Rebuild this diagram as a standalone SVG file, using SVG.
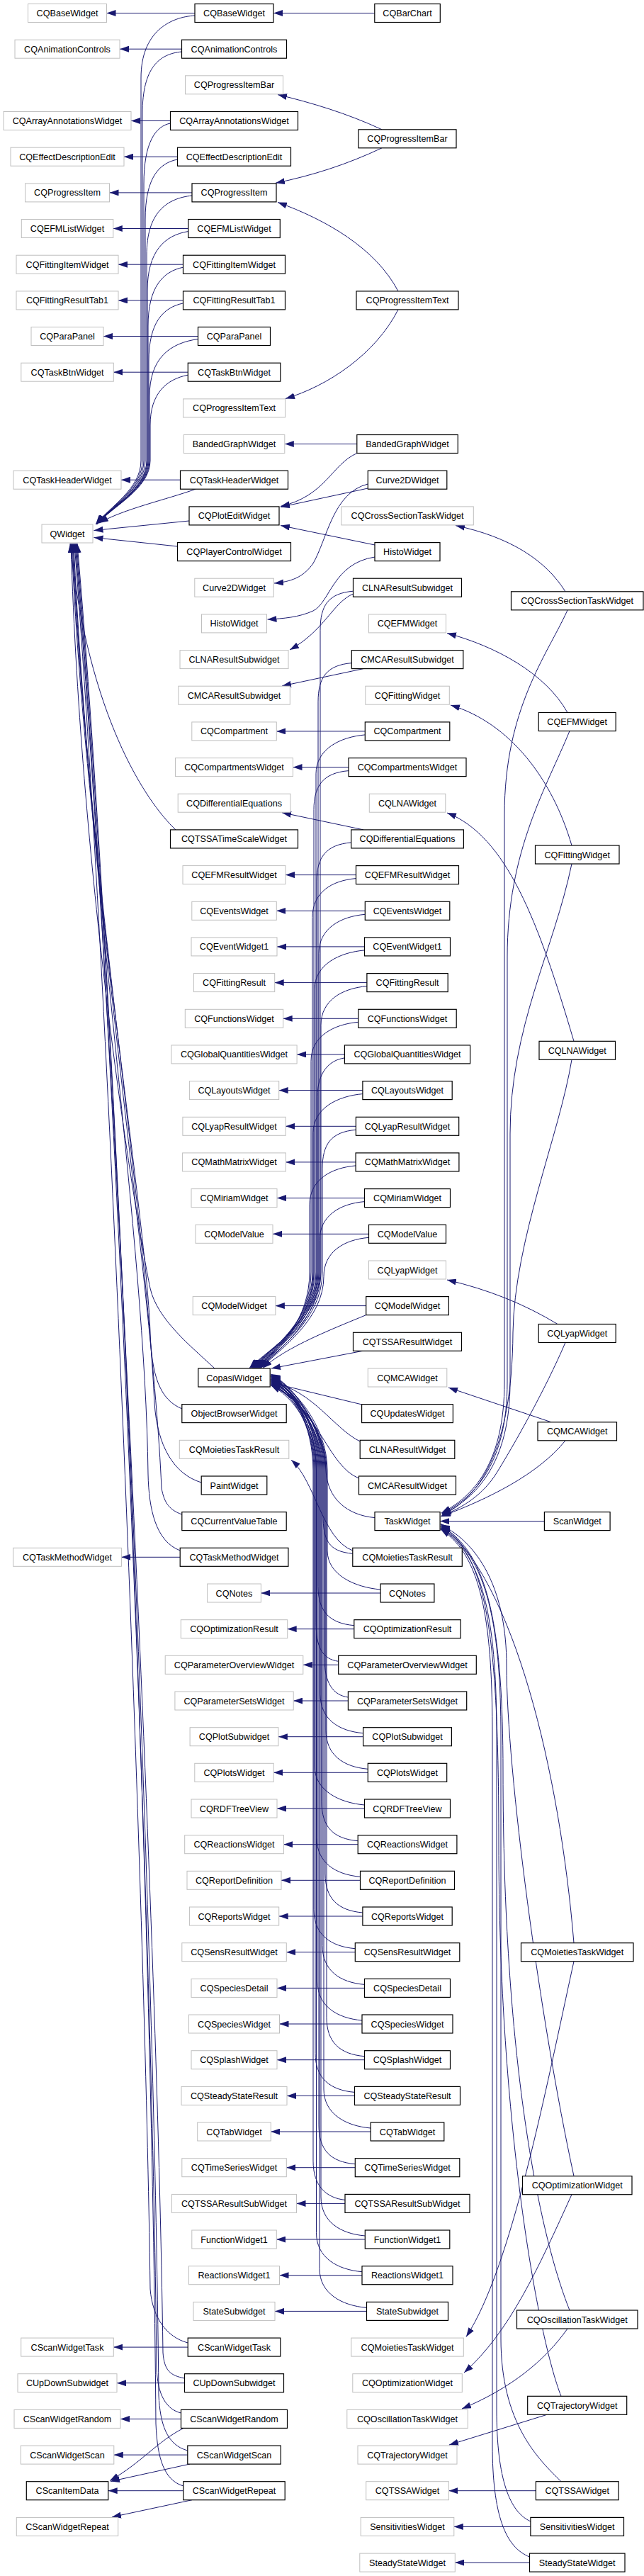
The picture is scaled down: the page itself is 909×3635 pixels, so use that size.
<svg xmlns="http://www.w3.org/2000/svg" width="909" height="3635" viewBox="0 0 909 3635">
<style>
.g rect{fill:#fff;stroke:#bfbfbf;stroke-width:1}
.b rect{fill:#fff;stroke:#000;stroke-width:1.2}
text{font-family:"Liberation Sans",Arial,Helvetica,sans-serif;font-size:12.6px;text-anchor:middle;fill:#000}
#edges path{fill:none;stroke:#191970;stroke-width:1;marker-end:url(#ah)}
</style>
<defs>
<marker id="ah" markerUnits="userSpaceOnUse" markerWidth="13" markerHeight="9" viewBox="0 0 13 9" refX="13" refY="4.5" orient="auto"><path d="M0,0 L13,4.5 L0,9 z" fill="#191970"/></marker>
</defs>
<rect width="909" height="3635" fill="#fff"/>
<g id="edges">
<!-- col1 -> col0 horizontal -->
<path d="M275,18.5 L150.5,18.5"/>
<path d="M256.5,69.2 L169,69.2"/>
<path d="M240.5,170.5 L185,170.5"/>
<path d="M250.5,221.2 L175,221.2"/>
<path d="M271,271.9 L154.5,271.9"/>
<path d="M265.8,322.5 L159.8,322.5"/>
<path d="M258.5,373.2 L167,373.2"/>
<path d="M258.5,423.9 L167,423.9"/>
<path d="M279.5,474.5 L146,474.5"/>
<path d="M265.3,525.2 L160.3,525.2"/>
<path d="M254.5,677.2 L171,677.2"/>
<path d="M254.2,2197.3 L171.4,2197.3"/>
<path d="M265.2,3312.1 L160.3,3312.1"/>
<path d="M260.5,3362.7 L165,3362.7"/>
<path d="M255.5,3413.4 L170,3413.4"/>
<path d="M264.8,3464.1 L160.8,3464.1"/>
<path d="M258.8,3514.7 L152.7,3514.7"/>
<!-- col2 -> col1 horizontal -->
<path d="M528.8,18.5 L386,18.5"/>
<path d="M503.8,626.5 L401.8,626.5"/>
<path d="M515.3,1031.9 L390.3,1031.9"/>
<path d="M492,1082.6 L413.5,1082.6"/>
<path d="M502.5,1234.6 L403,1234.6"/>
<path d="M515.3,1285.3 L390.3,1285.3"/>
<path d="M514.5,1335.9 L391,1335.9"/>
<path d="M517.9,1386.6 L387.7,1386.6"/>
<path d="M505.8,1437.3 L399.7,1437.3"/>
<path d="M486.4,1487.9 L419.1,1487.9"/>
<path d="M511.9,1538.6 L393.7,1538.6"/>
<path d="M502.4,1589.3 L403.2,1589.3"/>
<path d="M502.1,1639.9 L403.4,1639.9"/>
<path d="M514.5,1690.6 L391,1690.6"/>
<path d="M520.5,1741.3 L385,1741.3"/>
<path d="M516.7,1842.6 L388.9,1842.6"/>
<path d="M537.1,2248 L368.4,2248"/>
<path d="M499.8,2298.7 L405.7,2298.7"/>
<path d="M477.7,2349.3 L427.8,2349.3"/>
<path d="M491.4,2400 L414.2,2400"/>
<path d="M512.6,2450.7 L392.9,2450.7"/>
<path d="M519.3,2501.3 L386.2,2501.3"/>
<path d="M514.5,2552 L391,2552"/>
<path d="M505.2,2602.7 L400.4,2602.7"/>
<path d="M508.5,2653.3 L397,2653.3"/>
<path d="M511.9,2704 L393.7,2704"/>
<path d="M501.3,2754.7 L404.3,2754.7"/>
<path d="M514.5,2805.4 L391,2805.4"/>
<path d="M511,2856 L394.5,2856"/>
<path d="M514.5,2906.7 L391,2906.7"/>
<path d="M500.5,2957.4 L405,2957.4"/>
<path d="M523.2,3008 L382.3,3008"/>
<path d="M501.3,3058.7 L404.3,3058.7"/>
<path d="M487,3109.4 L418.5,3109.4"/>
<path d="M515.3,3160 L390.3,3160"/>
<path d="M511,3210.7 L394.5,3210.7"/>
<path d="M517.5,3261.4 L388,3261.4"/>
<!-- col3 -> col2 horizontal -->
<path d="M768.4,2146.6 L621.1,2146.6"/>
<path d="M756.4,3514.7 L633.4,3514.7"/>
<path d="M748.9,3565.4 L640.8,3565.4"/>
<path d="M747.5,3616.1 L642.3,3616.1"/>
<!-- to QWidget from above -->
<path d="M275,22 C240,24 199,45 199,110 L199,650 C199,690 155,715 135,740"/>
<path d="M256.5,73 C225,76 201,95 201,160 L201,650 C201,690 155.5,715 135.5,740"/>
<path d="M240.5,174 C220,178 203,200 203,260 L203,650 C203,690 156,715 136,740"/>
<path d="M250.5,225 C225,230 205,250 205,310 L205,650 C205,690 156,715 136,739.5"/>
<path d="M271,276 C235,280 207,300 207,360 L207,650 C207,690 156.5,715 136.5,739.5"/>
<path d="M265.8,326.5 C232,332 208,355 208,410 L208,650 C208,690 156.5,715 136.5,739.5"/>
<path d="M258.5,377.2 C230,383 209,405 209,460 L209,650 C209,690 156.5,715 136.5,739.5"/>
<path d="M258.5,427.9 C230,434 210,455 210,510 L210,650 C210,690 157,715 137,739.5"/>
<path d="M279.5,478.5 C240,484 211,505 211,560 L211,650 C211,690 157,715 137,739.5"/>
<path d="M265.3,529.2 C235,535 212,555 212,600 L212,650 C212,690 157.5,715 137.5,739.5"/>
<path d="M276,690.2 C235,705 175,718 140,738"/>
<path d="M267,735 L132.5,748.5"/>
<path d="M250.5,771 L132.5,758.5"/>
<!-- to QWidget from below -->
<path d="M248,1171 C205,1130 125,1010 99,767"/>
<path d="M303,1931 C270,1900 222,1862 212,1818 C190,1710 115,1250 100,767"/>
<path d="M257,1988 C225,1975 214,1940 212,1880 C205,1700 120,1200 101,767"/>
<path d="M284.2,2092 C245,2080 222,2040 218,1980 C205,1700 122,1200 102,767"/>
<path d="M256.8,2137 C240,2131 232,2122 228,2100 C215,1800 125,1250 103,767"/>
<path d="M254.2,2188 C220,2175 210,2130 209,2080 C205,1750 126,1250 104,767"/>
<path d="M265.2,3306 C235,3298 215,3270 212,3230 C205,2700 155,1400 105,767"/>
<path d="M260.5,3356 C240,3352 232,3345 230,3320 C222,2700 158,1400 106,767"/>
<path d="M255.5,3405 C235,3400 222,3380 221,3340 C215,2700 160,1400 107,767"/>
<path d="M264.8,3458 C235,3450 226,3420 224,3380 C218,2700 162,1400 108,767"/>
<path d="M258.8,3508 C232,3500 222,3470 220,3420 C215,2700 164,1400 109,767"/>
<!-- progress items, plot edit, etc -->
<path d="M539,182.8 C490,160 440,145 392,133.5"/>
<path d="M539,208.8 C490,232 440,248 389,258.3"/>
<path d="M562,410.9 C530,350 460,310 392,285.5"/>
<path d="M562,436.9 C530,500 462,545 403,562.5"/>
<path d="M504,639.5 C468,655 460,700 396,714.5"/>
<path d="M519.3,689 L396,715.5"/>
<path d="M519.3,683 C470,695 462,760 442,795 C428,815 410,821 387,823"/>
<path d="M529,769 L396,741.5"/>
<path d="M529,786 C470,795 466,850 442,862 C422,871 400,873 377.5,874"/>
<path d="M498.5,838 C470,850 458,890 409,917"/>
<path d="M513,943.6 L398,968"/>
<path d="M513,1170.9 L398,1146.7"/>
<path d="M497.8,2188 C455,2172 445,2090 411,2060"/>
<path d="M259,3426.4 C222,3445 200,3475 155,3500.5"/>
<path d="M268,3477 L156,3501.5"/>
<path d="M271,3527.7 L158,3551.8"/>
<!-- to CopasiWidget from above -->
<path d="M498.5,834.2 C463.5,837.2 452,854.2 452,889.2 L452,1795 C452,1862 380,1903 352,1930.5"/>
<path d="M496.3,935.6 C461.3,938.6 449,955.6 449,990.6 L449,1795 C449,1862 381.5,1903 353.5,1930.5"/>
<path d="M515.3,1036.9 C480.3,1039.9 446,1056.9 446,1091.9 L446,1795 C446,1862 383,1903 355,1930.5"/>
<path d="M492,1087.6 C457,1090.6 443,1107.6 443,1142.6 L443,1795 C443,1862 384,1903 356,1930.5"/>
<path d="M495.7,1188.9 C460.7,1191.9 447,1208.9 447,1243.9 L447,1795 C447,1862 385,1903 357,1930.5"/>
<path d="M502.5,1239.6 C467.5,1242.6 441,1259.6 441,1294.6 L441,1795 C441,1862 386,1903 358,1930.5"/>
<path d="M515.3,1290.3 C480.3,1293.3 450,1310.3 450,1345.3 L450,1795 C450,1862 387,1903 359,1930.5"/>
<path d="M514.5,1340.9 C479.5,1343.9 444,1360.9 444,1395.9 L444,1795 C444,1862 388,1903 360,1930.5"/>
<path d="M517.9,1391.6 C482.9,1394.6 453,1411.6 453,1446.6 L453,1795 C453,1862 389,1903 361,1930.5"/>
<path d="M505.8,1442.3 C470.8,1445.3 439,1462.3 439,1497.3 L439,1795 C439,1862 390,1903 362,1930.5"/>
<path d="M486.4,1492.9 C465,1495.9 448,1512.9 448,1547.9 L448,1795 C448,1862 391,1903 363,1930.5"/>
<path d="M511.9,1543.6 C476.9,1546.6 442,1563.6 442,1598.6 L442,1795 C442,1862 392,1903 364,1930.5"/>
<path d="M502.4,1594.3 C467.4,1597.3 455,1614.3 455,1649.3 L455,1795 C455,1862 393,1903 365,1930.5"/>
<path d="M502.1,1644.9 C467.1,1647.9 437,1664.9 437,1699.9 L437,1795 C437,1862 394,1903 366,1930.5"/>
<path d="M514.5,1695.6 C479.5,1698.6 451,1715.6 451,1750.6 L451,1795 C451,1862 395,1903 367,1930.5"/>
<path d="M520.5,1746.3 C485.5,1749.3 457,1766.3 457,1801.3 C457,1862 396,1903 368,1930.5"/>
<path d="M516.7,1855.6 C470,1875 405,1900 371,1930.5"/>
<path d="M512,1906.3 L383,1931"/>
<!-- to CopasiWidget from below -->
<path d="M511,1982 L382.5,1951"/>
<path d="M508.2,2034 C470,2015 445,1965 382.5,1949"/>
<path d="M506.5,2086 C462,2068 452,1990 382.5,1953"/>
<path d="M529,2141.6 C490,2138 462,2115 460,2075 C458,2008 414,1968 382.5,1955"/>
<path d="M497.8,2192.3 C462.8,2189.3 456,2172.3 456,2137.3 L456,2075 C456,2010 412,1955 382.5,1940"/>
<path d="M537.1,2243 C502.1,2240 462,2223 462,2188 L462,2075 C462,2010 412,1956 382.5,1941"/>
<path d="M499.8,2293.7 C464.8,2290.7 449,2273.7 449,2238.7 L449,2075 C449,2010 412,1957 382.5,1942"/>
<path d="M477.7,2344.3 C455,2341.3 446,2324.3 446,2289.3 L446,2075 C446,2010 412,1958 382.5,1943"/>
<path d="M491.4,2395 C470,2392 458,2375 458,2340 L458,2075 C458,2010 412,1959 382.5,1944"/>
<path d="M512.6,2445.7 C477.6,2442.7 452,2425.7 452,2390.7 L452,2075 C452,2010 412,1960 382.5,1945"/>
<path d="M519.3,2496.3 C484.3,2493.3 460,2476.3 460,2441.3 L460,2075 C460,2010 412,1961 382.5,1946"/>
<path d="M514.5,2547 C479.5,2544 444,2527 444,2492 L444,2075 C444,2010 412,1962 382.5,1947"/>
<path d="M505.2,2597.7 C470.2,2594.7 454,2577.7 454,2542.7 L454,2075 C454,2010 412,1963 382.5,1948"/>
<path d="M508.5,2648.3 C473.5,2645.3 447,2628.3 447,2593.3 L447,2075 C447,2010 412,1964 382.5,1949"/>
<path d="M511.9,2699 C476.9,2696 459,2679 459,2644 L459,2075 C459,2010 412,1965 382.5,1950"/>
<path d="M501.3,2749.7 C466.3,2746.7 443,2729.7 443,2694.7 L443,2075 C443,2010 412,1966 382.5,1951"/>
<path d="M514.5,2800.4 C479.5,2797.4 455,2780.4 455,2745.4 L455,2075 C455,2010 412,1967 382.5,1952"/>
<path d="M511,2851 C476,2848 448,2831 448,2796 L448,2075 C448,2010 412,1968 382.5,1953"/>
<path d="M514.5,2901.7 C479.5,2898.7 461,2881.7 461,2846.7 L461,2075 C461,2010 412,1969 382.5,1954"/>
<path d="M500.5,2952.4 C465.5,2949.4 445,2932.4 445,2897.4 L445,2075 C445,2010 412,1970 382.5,1955"/>
<path d="M523.2,3003 C488.2,3000 457,2983 457,2948 L457,2075 C457,2010 412,1954 382.5,1939"/>
<path d="M501.3,3053.7 C466.3,3050.7 450,3033.7 450,2998.7 L450,2075 C450,2010 412,1955.5 382.5,1940.5"/>
<path d="M487,3104.4 C460,3101.4 442,3084.4 442,3049.4 L442,2075 C442,2010 412,1957.5 382.5,1942.5"/>
<path d="M515.3,3155 C480.3,3152 453,3135 453,3100 L453,2075 C453,2010 412,1959.5 382.5,1944.5"/>
<path d="M511,3205.7 C476,3202.7 446.5,3185.7 446.5,3150.7 L446.5,2075 C446.5,2010 412,1961.5 382.5,1946.5"/>
<path d="M517.5,3256.4 C482.5,3253.4 451,3236.4 451,3201.4 L451,2075 C451,2010 412,1963.5 382.5,1948.5"/>
<!-- col3 -> gray col2 -->
<path d="M798,834.8 C770,790 720,758 643,741.5"/>
<path d="M801,1005.5 C770,950 700,912 631,893.5"/>
<path d="M807,1193 C780,1100 720,1020 636,995"/>
<path d="M810,1469.3 C760,1300 715,1180 631,1147"/>
<path d="M787,1868.5 C740,1840 690,1820 631,1806"/>
<path d="M778,2006.8 L633,1958"/>
<path d="M810,2767.7 C770,2950 722,3200 658,3297.5"/>
<path d="M807,3096.7 C760,3200 720,3290 655,3348"/>
<path d="M801,3286 C770,3330 722,3370 652,3399"/>
<path d="M772,3407.3 L634,3450"/>
<!-- col3 -> TaskWidget -->
<path d="M801,861 C772,925 712,1000 712,1150 L712,1950 C712,2065 668,2112 623,2135"/>
<path d="M804,1031.5 C772,1110 716,1200 716,1350 L716,1950 C716,2065 670,2113 623.5,2136"/>
<path d="M807,1219 C782,1340 720,1450 720,1600 L720,1950 C720,2065 672,2114 624,2137"/>
<path d="M807,1495.3 C790,1600 726,1750 724,1880 C723,2050 674,2115 624,2138"/>
<path d="M798,1894.5 C770,1960 725,2040 700,2080 C682,2108 655,2127 623,2139"/>
<path d="M798,2032.8 C760,2080 690,2115 622.5,2140"/>
<path d="M810,2741.7 C790,2500 725,2230 622,2150"/>
<path d="M810,3070.7 C762,2850 715,2500 715,2350 C715,2250 680,2180 622,2151.5"/>
<path d="M804,3260 C760,3150 710,2900 710,2500 C710,2300 690,2190 622,2153"/>
<path d="M792,3381.3 C760,3300 704,3000 704,2600 C704,2300 686,2192 622,2154.5"/>
<path d="M792,3501.7 C760,3470 707,3420 707,3300 L707,2450 C707,2300 689,2193 622,2156"/>
<path d="M749,3558 C720,3545 701,3500 701,3400 L701,2450 C701,2300 686,2195 622,2157"/>
<path d="M747.5,3608 C714,3595 695,3550 695,3450 L695,2450 C695,2300 683,2196 622,2158"/>
</g>
<g id="nodes">
<g id="u-CQBaseWidget" class="g"><rect x="39.5" y="5.5" width="111" height="26"/><text x="95" y="23">CQBaseWidget</text></g>
<g id="c-CQBaseWidget" class="b"><rect x="275" y="5.5" width="111" height="26"/><text x="330.5" y="23">CQBaseWidget</text></g>
<g id="c-CQBarChart" class="b"><rect x="528.8" y="5.5" width="92.5" height="26"/><text x="575" y="23">CQBarChart</text></g>
<g id="u-CQAnimationControls" class="g"><rect x="21" y="56.2" width="148" height="26"/><text x="95" y="73.7">CQAnimationControls</text></g>
<g id="c-CQAnimationControls" class="b"><rect x="256.5" y="56.2" width="148" height="26"/><text x="330.5" y="73.7">CQAnimationControls</text></g>
<g id="u-CQProgressItemBar" class="g"><rect x="261.5" y="106.8" width="138" height="26"/><text x="330.5" y="124.3">CQProgressItemBar</text></g>
<g id="u-CQArrayAnnotationsWidget" class="g"><rect x="5" y="157.5" width="180" height="26"/><text x="95" y="175">CQArrayAnnotationsWidget</text></g>
<g id="c-CQArrayAnnotationsWidget" class="b"><rect x="240.5" y="157.5" width="180" height="26"/><text x="330.5" y="175">CQArrayAnnotationsWidget</text></g>
<g id="c-CQProgressItemBar" class="b"><rect x="506" y="182.8" width="138" height="26"/><text x="575" y="200.3">CQProgressItemBar</text></g>
<g id="u-CQEffectDescriptionEdit" class="g"><rect x="15" y="208.2" width="160" height="26"/><text x="95" y="225.7">CQEffectDescriptionEdit</text></g>
<g id="c-CQEffectDescriptionEdit" class="b"><rect x="250.5" y="208.2" width="160" height="26"/><text x="330.5" y="225.7">CQEffectDescriptionEdit</text></g>
<g id="u-CQProgressItem" class="g"><rect x="35.5" y="258.9" width="119" height="26"/><text x="95" y="276.4">CQProgressItem</text></g>
<g id="c-CQProgressItem" class="b"><rect x="271" y="258.9" width="119" height="26"/><text x="330.5" y="276.4">CQProgressItem</text></g>
<g id="u-CQEFMListWidget" class="g"><rect x="30.3" y="309.5" width="129.5" height="26"/><text x="95" y="327">CQEFMListWidget</text></g>
<g id="c-CQEFMListWidget" class="b"><rect x="265.8" y="309.5" width="129.5" height="26"/><text x="330.5" y="327">CQEFMListWidget</text></g>
<g id="u-CQFittingItemWidget" class="g"><rect x="23" y="360.2" width="144" height="26"/><text x="95" y="377.7">CQFittingItemWidget</text></g>
<g id="c-CQFittingItemWidget" class="b"><rect x="258.5" y="360.2" width="144" height="26"/><text x="330.5" y="377.7">CQFittingItemWidget</text></g>
<g id="u-CQFittingResultTab1" class="g"><rect x="23" y="410.9" width="144" height="26"/><text x="95" y="428.4">CQFittingResultTab1</text></g>
<g id="c-CQFittingResultTab1" class="b"><rect x="258.5" y="410.9" width="144" height="26"/><text x="330.5" y="428.4">CQFittingResultTab1</text></g>
<g id="c-CQProgressItemText" class="b"><rect x="503" y="410.9" width="144" height="26"/><text x="575" y="428.4">CQProgressItemText</text></g>
<g id="u-CQParaPanel" class="g"><rect x="44" y="461.5" width="102" height="26"/><text x="95" y="479">CQParaPanel</text></g>
<g id="c-CQParaPanel" class="b"><rect x="279.5" y="461.5" width="102" height="26"/><text x="330.5" y="479">CQParaPanel</text></g>
<g id="u-CQTaskBtnWidget" class="g"><rect x="29.8" y="512.2" width="130.5" height="26"/><text x="95" y="529.7">CQTaskBtnWidget</text></g>
<g id="c-CQTaskBtnWidget" class="b"><rect x="265.3" y="512.2" width="130.5" height="26"/><text x="330.5" y="529.7">CQTaskBtnWidget</text></g>
<g id="u-CQProgressItemText" class="g"><rect x="258.5" y="562.9" width="144" height="26"/><text x="330.5" y="580.4">CQProgressItemText</text></g>
<g id="u-BandedGraphWidget" class="g"><rect x="259.3" y="613.5" width="142.5" height="26"/><text x="330.5" y="631">BandedGraphWidget</text></g>
<g id="c-BandedGraphWidget" class="b"><rect x="503.8" y="613.5" width="142.5" height="26"/><text x="575" y="631">BandedGraphWidget</text></g>
<g id="u-CQTaskHeaderWidget" class="g"><rect x="19" y="664.2" width="152" height="26"/><text x="95" y="681.7">CQTaskHeaderWidget</text></g>
<g id="c-CQTaskHeaderWidget" class="b"><rect x="254.5" y="664.2" width="152" height="26"/><text x="330.5" y="681.7">CQTaskHeaderWidget</text></g>
<g id="c-Curve2DWidget" class="b"><rect x="519.3" y="664.2" width="111.5" height="26"/><text x="575" y="681.7">Curve2DWidget</text></g>
<g id="c-CQPlotEditWidget" class="b"><rect x="267" y="714.9" width="127" height="26"/><text x="330.5" y="732.4">CQPlotEditWidget</text></g>
<g id="u-CQCrossSectionTaskWidget" class="g"><rect x="481.8" y="714.9" width="186.5" height="26"/><text x="575" y="732.4">CQCrossSectionTaskWidget</text></g>
<g id="u-QWidget" class="g"><rect x="59" y="740" width="72" height="26"/><text x="95" y="757.5">QWidget</text></g>
<g id="c-CQPlayerControlWidget" class="b"><rect x="250.5" y="765.6" width="160" height="26"/><text x="330.5" y="783.1">CQPlayerControlWidget</text></g>
<g id="c-HistoWidget" class="b"><rect x="529" y="765.6" width="92" height="26"/><text x="575" y="783.1">HistoWidget</text></g>
<g id="u-Curve2DWidget" class="g"><rect x="274.8" y="816.2" width="111.5" height="26"/><text x="330.5" y="833.7">Curve2DWidget</text></g>
<g id="c-CLNAResultSubwidget" class="b"><rect x="498.5" y="816.2" width="153" height="26"/><text x="575" y="833.7">CLNAResultSubwidget</text></g>
<g id="c-CQCrossSectionTaskWidget" class="b"><rect x="721.5" y="834.8" width="186.5" height="26"/><text x="814.7" y="852.3">CQCrossSectionTaskWidget</text></g>
<g id="u-HistoWidget" class="g"><rect x="284.5" y="866.9" width="92" height="26"/><text x="330.5" y="884.4">HistoWidget</text></g>
<g id="u-CQEFMWidget" class="g"><rect x="520.5" y="866.9" width="109" height="26"/><text x="575" y="884.4">CQEFMWidget</text></g>
<g id="u-CLNAResultSubwidget" class="g"><rect x="254" y="917.6" width="153" height="26"/><text x="330.5" y="935.1">CLNAResultSubwidget</text></g>
<g id="c-CMCAResultSubwidget" class="b"><rect x="496.3" y="917.6" width="157.5" height="26"/><text x="575" y="935.1">CMCAResultSubwidget</text></g>
<g id="u-CMCAResultSubwidget" class="g"><rect x="251.8" y="968.2" width="157.5" height="26"/><text x="330.5" y="985.7">CMCAResultSubwidget</text></g>
<g id="u-CQFittingWidget" class="g"><rect x="515.8" y="968.2" width="118.5" height="26"/><text x="575" y="985.7">CQFittingWidget</text></g>
<g id="c-CQEFMWidget" class="b"><rect x="760.2" y="1005.5" width="109" height="26"/><text x="814.7" y="1023">CQEFMWidget</text></g>
<g id="u-CQCompartment" class="g"><rect x="270.8" y="1018.9" width="119.5" height="26"/><text x="330.5" y="1036.4">CQCompartment</text></g>
<g id="c-CQCompartment" class="b"><rect x="515.3" y="1018.9" width="119.5" height="26"/><text x="575" y="1036.4">CQCompartment</text></g>
<g id="u-CQCompartmentsWidget" class="g"><rect x="247.5" y="1069.6" width="166" height="26"/><text x="330.5" y="1087.1">CQCompartmentsWidget</text></g>
<g id="c-CQCompartmentsWidget" class="b"><rect x="492" y="1069.6" width="166" height="26"/><text x="575" y="1087.1">CQCompartmentsWidget</text></g>
<g id="u-CQDifferentialEquations" class="g"><rect x="251.2" y="1120.2" width="158.7" height="26"/><text x="330.5" y="1137.7">CQDifferentialEquations</text></g>
<g id="u-CQLNAWidget" class="g"><rect x="521.3" y="1120.2" width="107.5" height="26"/><text x="575" y="1137.7">CQLNAWidget</text></g>
<g id="c-CQTSSATimeScaleWidget" class="b"><rect x="240.5" y="1170.9" width="180" height="26"/><text x="330.5" y="1188.4">CQTSSATimeScaleWidget</text></g>
<g id="c-CQDifferentialEquations" class="b"><rect x="495.7" y="1170.9" width="158.7" height="26"/><text x="575" y="1188.4">CQDifferentialEquations</text></g>
<g id="c-CQFittingWidget" class="b"><rect x="755.5" y="1193" width="118.5" height="26"/><text x="814.7" y="1210.5">CQFittingWidget</text></g>
<g id="u-CQEFMResultWidget" class="g"><rect x="258" y="1221.6" width="145" height="26"/><text x="330.5" y="1239.1">CQEFMResultWidget</text></g>
<g id="c-CQEFMResultWidget" class="b"><rect x="502.5" y="1221.6" width="145" height="26"/><text x="575" y="1239.1">CQEFMResultWidget</text></g>
<g id="u-CQEventsWidget" class="g"><rect x="270.8" y="1272.3" width="119.5" height="26"/><text x="330.5" y="1289.8">CQEventsWidget</text></g>
<g id="c-CQEventsWidget" class="b"><rect x="515.3" y="1272.3" width="119.5" height="26"/><text x="575" y="1289.8">CQEventsWidget</text></g>
<g id="u-CQEventWidget1" class="g"><rect x="270" y="1322.9" width="121" height="26"/><text x="330.5" y="1340.4">CQEventWidget1</text></g>
<g id="c-CQEventWidget1" class="b"><rect x="514.5" y="1322.9" width="121" height="26"/><text x="575" y="1340.4">CQEventWidget1</text></g>
<g id="u-CQFittingResult" class="g"><rect x="273.4" y="1373.6" width="114.3" height="26"/><text x="330.5" y="1391.1">CQFittingResult</text></g>
<g id="c-CQFittingResult" class="b"><rect x="517.9" y="1373.6" width="114.3" height="26"/><text x="575" y="1391.1">CQFittingResult</text></g>
<g id="u-CQFunctionsWidget" class="g"><rect x="261.3" y="1424.3" width="138.4" height="26"/><text x="330.5" y="1441.8">CQFunctionsWidget</text></g>
<g id="c-CQFunctionsWidget" class="b"><rect x="505.8" y="1424.3" width="138.4" height="26"/><text x="575" y="1441.8">CQFunctionsWidget</text></g>
<g id="c-CQLNAWidget" class="b"><rect x="761" y="1469.3" width="107.5" height="26"/><text x="814.7" y="1486.8">CQLNAWidget</text></g>
<g id="u-CQGlobalQuantitiesWidget" class="g"><rect x="241.9" y="1474.9" width="177.2" height="26"/><text x="330.5" y="1492.4">CQGlobalQuantitiesWidget</text></g>
<g id="c-CQGlobalQuantitiesWidget" class="b"><rect x="486.4" y="1474.9" width="177.2" height="26"/><text x="575" y="1492.4">CQGlobalQuantitiesWidget</text></g>
<g id="u-CQLayoutsWidget" class="g"><rect x="267.4" y="1525.6" width="126.3" height="26"/><text x="330.5" y="1543.1">CQLayoutsWidget</text></g>
<g id="c-CQLayoutsWidget" class="b"><rect x="511.9" y="1525.6" width="126.3" height="26"/><text x="575" y="1543.1">CQLayoutsWidget</text></g>
<g id="u-CQLyapResultWidget" class="g"><rect x="257.9" y="1576.3" width="145.3" height="26"/><text x="330.5" y="1593.8">CQLyapResultWidget</text></g>
<g id="c-CQLyapResultWidget" class="b"><rect x="502.4" y="1576.3" width="145.3" height="26"/><text x="575" y="1593.8">CQLyapResultWidget</text></g>
<g id="u-CQMathMatrixWidget" class="g"><rect x="257.6" y="1626.9" width="145.8" height="26"/><text x="330.5" y="1644.4">CQMathMatrixWidget</text></g>
<g id="c-CQMathMatrixWidget" class="b"><rect x="502.1" y="1626.9" width="145.8" height="26"/><text x="575" y="1644.4">CQMathMatrixWidget</text></g>
<g id="u-CQMiriamWidget" class="g"><rect x="270" y="1677.6" width="121" height="26"/><text x="330.5" y="1695.1">CQMiriamWidget</text></g>
<g id="c-CQMiriamWidget" class="b"><rect x="514.5" y="1677.6" width="121" height="26"/><text x="575" y="1695.1">CQMiriamWidget</text></g>
<g id="u-CQModelValue" class="g"><rect x="276" y="1728.3" width="109" height="26"/><text x="330.5" y="1745.8">CQModelValue</text></g>
<g id="c-CQModelValue" class="b"><rect x="520.5" y="1728.3" width="109" height="26"/><text x="575" y="1745.8">CQModelValue</text></g>
<g id="u-CQLyapWidget" class="g"><rect x="520.5" y="1779" width="109" height="26"/><text x="575" y="1796.5">CQLyapWidget</text></g>
<g id="u-CQModelWidget" class="g"><rect x="272.2" y="1829.6" width="116.7" height="26"/><text x="330.5" y="1847.1">CQModelWidget</text></g>
<g id="c-CQModelWidget" class="b"><rect x="516.7" y="1829.6" width="116.7" height="26"/><text x="575" y="1847.1">CQModelWidget</text></g>
<g id="c-CQLyapWidget" class="b"><rect x="760.2" y="1868.5" width="109" height="26"/><text x="814.7" y="1886">CQLyapWidget</text></g>
<g id="c-CQTSSAResultWidget" class="b"><rect x="498.5" y="1880.3" width="153" height="26"/><text x="575" y="1897.8">CQTSSAResultWidget</text></g>
<g id="c-CopasiWidget" class="b"><rect x="279.8" y="1931" width="101.4" height="26"/><text x="330.5" y="1948.5">CopasiWidget</text></g>
<g id="u-CQMCAWidget" class="g"><rect x="519.3" y="1931" width="111.5" height="26"/><text x="575" y="1948.5">CQMCAWidget</text></g>
<g id="c-ObjectBrowserWidget" class="b"><rect x="256.8" y="1981.6" width="147.4" height="26"/><text x="330.5" y="1999.1">ObjectBrowserWidget</text></g>
<g id="c-CQUpdatesWidget" class="b"><rect x="510.6" y="1981.6" width="128.8" height="26"/><text x="575" y="1999.1">CQUpdatesWidget</text></g>
<g id="c-CQMCAWidget" class="b"><rect x="759" y="2006.8" width="111.5" height="26"/><text x="814.7" y="2024.3">CQMCAWidget</text></g>
<g id="u-CQMoietiesTaskResult" class="g"><rect x="253.3" y="2032.3" width="154.5" height="26"/><text x="330.5" y="2049.8">CQMoietiesTaskResult</text></g>
<g id="c-CLNAResultWidget" class="b"><rect x="508.2" y="2032.3" width="133.6" height="26"/><text x="575" y="2049.8">CLNAResultWidget</text></g>
<g id="c-PaintWidget" class="b"><rect x="284.2" y="2083" width="92.6" height="26"/><text x="330.5" y="2100.5">PaintWidget</text></g>
<g id="c-CMCAResultWidget" class="b"><rect x="506.5" y="2083" width="137" height="26"/><text x="575" y="2100.5">CMCAResultWidget</text></g>
<g id="c-CQCurrentValueTable" class="b"><rect x="256.8" y="2133.6" width="147.4" height="26"/><text x="330.5" y="2151.1">CQCurrentValueTable</text></g>
<g id="c-TaskWidget" class="b"><rect x="529" y="2133.6" width="92.1" height="26"/><text x="575" y="2151.1">TaskWidget</text></g>
<g id="c-ScanWidget" class="b"><rect x="768.4" y="2133.6" width="92.7" height="26"/><text x="814.7" y="2151.1">ScanWidget</text></g>
<g id="u-CQTaskMethodWidget" class="g"><rect x="18.7" y="2184.3" width="152.7" height="26"/><text x="95" y="2201.8">CQTaskMethodWidget</text></g>
<g id="c-CQTaskMethodWidget" class="b"><rect x="254.2" y="2184.3" width="152.7" height="26"/><text x="330.5" y="2201.8">CQTaskMethodWidget</text></g>
<g id="c-CQMoietiesTaskResult" class="b"><rect x="497.8" y="2184.3" width="154.5" height="26"/><text x="575" y="2201.8">CQMoietiesTaskResult</text></g>
<g id="u-CQNotes" class="g"><rect x="292.6" y="2235" width="75.8" height="26"/><text x="330.5" y="2252.5">CQNotes</text></g>
<g id="c-CQNotes" class="b"><rect x="537.1" y="2235" width="75.8" height="26"/><text x="575" y="2252.5">CQNotes</text></g>
<g id="u-CQOptimizationResult" class="g"><rect x="255.3" y="2285.7" width="150.4" height="26"/><text x="330.5" y="2303.2">CQOptimizationResult</text></g>
<g id="c-CQOptimizationResult" class="b"><rect x="499.8" y="2285.7" width="150.4" height="26"/><text x="575" y="2303.2">CQOptimizationResult</text></g>
<g id="u-CQParameterOverviewWidget" class="g"><rect x="233.2" y="2336.3" width="194.6" height="26"/><text x="330.5" y="2353.8">CQParameterOverviewWidget</text></g>
<g id="c-CQParameterOverviewWidget" class="b"><rect x="477.7" y="2336.3" width="194.6" height="26"/><text x="575" y="2353.8">CQParameterOverviewWidget</text></g>
<g id="u-CQParameterSetsWidget" class="g"><rect x="246.9" y="2387" width="167.3" height="26"/><text x="330.5" y="2404.5">CQParameterSetsWidget</text></g>
<g id="c-CQParameterSetsWidget" class="b"><rect x="491.4" y="2387" width="167.3" height="26"/><text x="575" y="2404.5">CQParameterSetsWidget</text></g>
<g id="u-CQPlotSubwidget" class="g"><rect x="268.1" y="2437.7" width="124.8" height="26"/><text x="330.5" y="2455.2">CQPlotSubwidget</text></g>
<g id="c-CQPlotSubwidget" class="b"><rect x="512.6" y="2437.7" width="124.8" height="26"/><text x="575" y="2455.2">CQPlotSubwidget</text></g>
<g id="u-CQPlotsWidget" class="g"><rect x="274.8" y="2488.3" width="111.4" height="26"/><text x="330.5" y="2505.8">CQPlotsWidget</text></g>
<g id="c-CQPlotsWidget" class="b"><rect x="519.3" y="2488.3" width="111.4" height="26"/><text x="575" y="2505.8">CQPlotsWidget</text></g>
<g id="u-CQRDFTreeView" class="g"><rect x="270" y="2539" width="121" height="26"/><text x="330.5" y="2556.5">CQRDFTreeView</text></g>
<g id="c-CQRDFTreeView" class="b"><rect x="514.5" y="2539" width="121" height="26"/><text x="575" y="2556.5">CQRDFTreeView</text></g>
<g id="u-CQReactionsWidget" class="g"><rect x="260.7" y="2589.7" width="139.7" height="26"/><text x="330.5" y="2607.2">CQReactionsWidget</text></g>
<g id="c-CQReactionsWidget" class="b"><rect x="505.2" y="2589.7" width="139.7" height="26"/><text x="575" y="2607.2">CQReactionsWidget</text></g>
<g id="u-CQReportDefinition" class="g"><rect x="264" y="2640.3" width="133" height="26"/><text x="330.5" y="2657.8">CQReportDefinition</text></g>
<g id="c-CQReportDefinition" class="b"><rect x="508.5" y="2640.3" width="133" height="26"/><text x="575" y="2657.8">CQReportDefinition</text></g>
<g id="u-CQReportsWidget" class="g"><rect x="267.4" y="2691" width="126.3" height="26"/><text x="330.5" y="2708.5">CQReportsWidget</text></g>
<g id="c-CQReportsWidget" class="b"><rect x="511.9" y="2691" width="126.3" height="26"/><text x="575" y="2708.5">CQReportsWidget</text></g>
<g id="u-CQSensResultWidget" class="g"><rect x="256.8" y="2741.7" width="147.5" height="26"/><text x="330.5" y="2759.2">CQSensResultWidget</text></g>
<g id="c-CQSensResultWidget" class="b"><rect x="501.3" y="2741.7" width="147.5" height="26"/><text x="575" y="2759.2">CQSensResultWidget</text></g>
<g id="c-CQMoietiesTaskWidget" class="b"><rect x="735.5" y="2741.7" width="158.5" height="26"/><text x="814.7" y="2759.2">CQMoietiesTaskWidget</text></g>
<g id="u-CQSpeciesDetail" class="g"><rect x="270" y="2792.4" width="121" height="26"/><text x="330.5" y="2809.9">CQSpeciesDetail</text></g>
<g id="c-CQSpeciesDetail" class="b"><rect x="514.5" y="2792.4" width="121" height="26"/><text x="575" y="2809.9">CQSpeciesDetail</text></g>
<g id="u-CQSpeciesWidget" class="g"><rect x="266.5" y="2843" width="128" height="26"/><text x="330.5" y="2860.5">CQSpeciesWidget</text></g>
<g id="c-CQSpeciesWidget" class="b"><rect x="511" y="2843" width="128" height="26"/><text x="575" y="2860.5">CQSpeciesWidget</text></g>
<g id="u-CQSplashWidget" class="g"><rect x="270" y="2893.7" width="121" height="26"/><text x="330.5" y="2911.2">CQSplashWidget</text></g>
<g id="c-CQSplashWidget" class="b"><rect x="514.5" y="2893.7" width="121" height="26"/><text x="575" y="2911.2">CQSplashWidget</text></g>
<g id="u-CQSteadyStateResult" class="g"><rect x="256" y="2944.4" width="149" height="26"/><text x="330.5" y="2961.9">CQSteadyStateResult</text></g>
<g id="c-CQSteadyStateResult" class="b"><rect x="500.5" y="2944.4" width="149" height="26"/><text x="575" y="2961.9">CQSteadyStateResult</text></g>
<g id="u-CQTabWidget" class="g"><rect x="278.7" y="2995" width="103.6" height="26"/><text x="330.5" y="3012.5">CQTabWidget</text></g>
<g id="c-CQTabWidget" class="b"><rect x="523.2" y="2995" width="103.6" height="26"/><text x="575" y="3012.5">CQTabWidget</text></g>
<g id="u-CQTimeSeriesWidget" class="g"><rect x="256.8" y="3045.7" width="147.5" height="26"/><text x="330.5" y="3063.2">CQTimeSeriesWidget</text></g>
<g id="c-CQTimeSeriesWidget" class="b"><rect x="501.3" y="3045.7" width="147.5" height="26"/><text x="575" y="3063.2">CQTimeSeriesWidget</text></g>
<g id="c-CQOptimizationWidget" class="b"><rect x="737.5" y="3070.7" width="154.5" height="26"/><text x="814.7" y="3088.2">CQOptimizationWidget</text></g>
<g id="u-CQTSSAResultSubWidget" class="g"><rect x="242.5" y="3096.4" width="176" height="26"/><text x="330.5" y="3113.9">CQTSSAResultSubWidget</text></g>
<g id="c-CQTSSAResultSubWidget" class="b"><rect x="487" y="3096.4" width="176" height="26"/><text x="575" y="3113.9">CQTSSAResultSubWidget</text></g>
<g id="u-FunctionWidget1" class="g"><rect x="270.8" y="3147" width="119.5" height="26"/><text x="330.5" y="3164.5">FunctionWidget1</text></g>
<g id="c-FunctionWidget1" class="b"><rect x="515.3" y="3147" width="119.5" height="26"/><text x="575" y="3164.5">FunctionWidget1</text></g>
<g id="u-ReactionsWidget1" class="g"><rect x="266.5" y="3197.7" width="128" height="26"/><text x="330.5" y="3215.2">ReactionsWidget1</text></g>
<g id="c-ReactionsWidget1" class="b"><rect x="511" y="3197.7" width="128" height="26"/><text x="575" y="3215.2">ReactionsWidget1</text></g>
<g id="u-StateSubwidget" class="g"><rect x="273" y="3248.4" width="115" height="26"/><text x="330.5" y="3265.9">StateSubwidget</text></g>
<g id="c-StateSubwidget" class="b"><rect x="517.5" y="3248.4" width="115" height="26"/><text x="575" y="3265.9">StateSubwidget</text></g>
<g id="c-CQOscillationTaskWidget" class="b"><rect x="729.5" y="3260" width="170.5" height="26"/><text x="814.7" y="3277.5">CQOscillationTaskWidget</text></g>
<g id="u-CScanWidgetTask" class="g"><rect x="29.7" y="3299.1" width="130.6" height="26"/><text x="95" y="3316.6">CScanWidgetTask</text></g>
<g id="c-CScanWidgetTask" class="b"><rect x="265.2" y="3299.1" width="130.6" height="26"/><text x="330.5" y="3316.6">CScanWidgetTask</text></g>
<g id="u-CQMoietiesTaskWidget" class="g"><rect x="495.8" y="3299.1" width="158.5" height="26"/><text x="575" y="3316.6">CQMoietiesTaskWidget</text></g>
<g id="u-CUpDownSubwidget" class="g"><rect x="25" y="3349.7" width="140" height="26"/><text x="95" y="3367.2">CUpDownSubwidget</text></g>
<g id="c-CUpDownSubwidget" class="b"><rect x="260.5" y="3349.7" width="140" height="26"/><text x="330.5" y="3367.2">CUpDownSubwidget</text></g>
<g id="u-CQOptimizationWidget" class="g"><rect x="497.8" y="3349.7" width="154.5" height="26"/><text x="575" y="3367.2">CQOptimizationWidget</text></g>
<g id="c-CQTrajectoryWidget" class="b"><rect x="744.7" y="3381.3" width="140" height="26"/><text x="814.7" y="3398.8">CQTrajectoryWidget</text></g>
<g id="u-CScanWidgetRandom" class="g"><rect x="20" y="3400.4" width="150" height="26"/><text x="95" y="3417.9">CScanWidgetRandom</text></g>
<g id="c-CScanWidgetRandom" class="b"><rect x="255.5" y="3400.4" width="150" height="26"/><text x="330.5" y="3417.9">CScanWidgetRandom</text></g>
<g id="u-CQOscillationTaskWidget" class="g"><rect x="489.8" y="3400.4" width="170.5" height="26"/><text x="575" y="3417.9">CQOscillationTaskWidget</text></g>
<g id="u-CScanWidgetScan" class="g"><rect x="29.3" y="3451.1" width="131.5" height="26"/><text x="95" y="3468.6">CScanWidgetScan</text></g>
<g id="c-CScanWidgetScan" class="b"><rect x="264.8" y="3451.1" width="131.5" height="26"/><text x="330.5" y="3468.6">CScanWidgetScan</text></g>
<g id="u-CQTrajectoryWidget" class="g"><rect x="505" y="3451.1" width="140" height="26"/><text x="575" y="3468.6">CQTrajectoryWidget</text></g>
<g id="c-CScanItemData" class="b"><rect x="37.3" y="3501.7" width="115.4" height="26"/><text x="95" y="3519.2">CScanItemData</text></g>
<g id="c-CScanWidgetRepeat" class="b"><rect x="258.8" y="3501.7" width="143.4" height="26"/><text x="330.5" y="3519.2">CScanWidgetRepeat</text></g>
<g id="u-CQTSSAWidget" class="g"><rect x="516.7" y="3501.7" width="116.7" height="26"/><text x="575" y="3519.2">CQTSSAWidget</text></g>
<g id="c-CQTSSAWidget" class="b"><rect x="756.4" y="3501.7" width="116.7" height="26"/><text x="814.7" y="3519.2">CQTSSAWidget</text></g>
<g id="u-CScanWidgetRepeat" class="g"><rect x="23.3" y="3552.4" width="143.4" height="26"/><text x="95" y="3569.9">CScanWidgetRepeat</text></g>
<g id="u-SensitivitiesWidget" class="g"><rect x="509.2" y="3552.4" width="131.6" height="26"/><text x="575" y="3569.9">SensitivitiesWidget</text></g>
<g id="c-SensitivitiesWidget" class="b"><rect x="748.9" y="3552.4" width="131.6" height="26"/><text x="814.7" y="3569.9">SensitivitiesWidget</text></g>
<g id="u-SteadyStateWidget" class="g"><rect x="507.8" y="3603.1" width="134.5" height="26"/><text x="575" y="3620.6">SteadyStateWidget</text></g>
<g id="c-SteadyStateWidget" class="b"><rect x="747.5" y="3603.1" width="134.5" height="26"/><text x="814.7" y="3620.6">SteadyStateWidget</text></g>
</g>
</svg>
